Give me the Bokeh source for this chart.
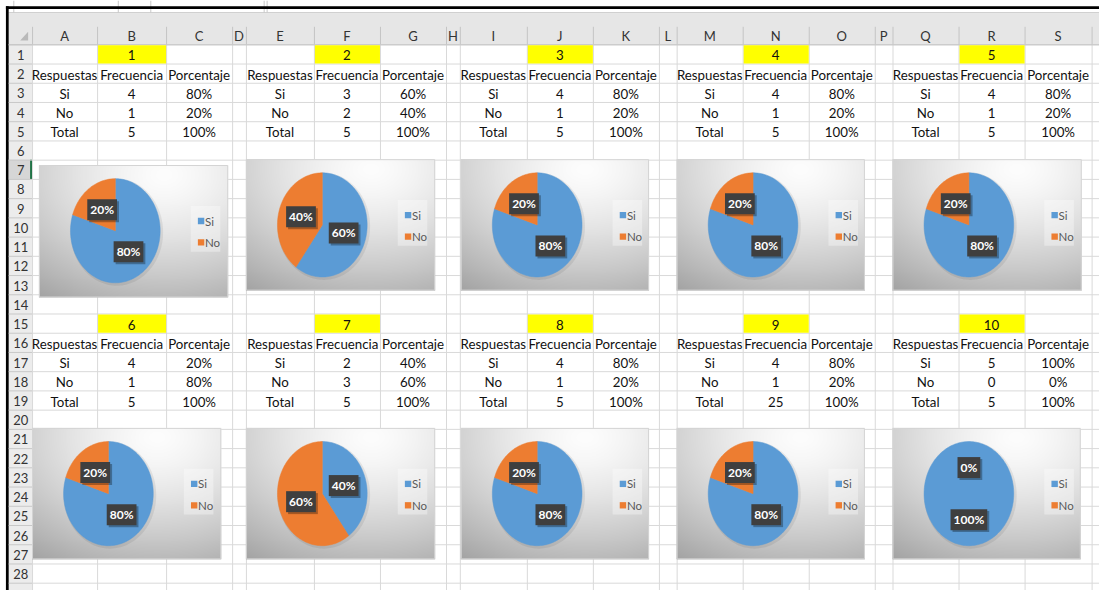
import numpy as np
from bokeh.plotting import figure
from bokeh.models import Range1d, ColumnDataSource
from bokeh.embed import file_html
from bokeh.resources import INLINE
from bokeh.core.properties import value

# ---------------- data ----------------
table_ids = ["1", "2", "3", "4", "5", "6", "7", "8", "9", "10"]
col_headers = ["Respuestas", "Frecuencia", "Porcentaje"]
answers = ["Si", "No", "Total"]
si_freq = [4, 3, 4, 4, 4, 4, 2, 4, 4, 5]
no_freq = [1, 2, 1, 1, 1, 1, 3, 1, 1, 0]
total_freq = [5, 5, 5, 5, 5, 5, 5, 5, 25, 5]
si_pct = ["80%", "60%", "80%", "80%", "80%", "20%", "40%", "80%", "80%", "100%"]
no_pct = ["20%", "40%", "20%", "20%", "20%", "80%", "60%", "20%", "20%", "0%"]
total_pct = ["100%"] * 10
pie_si = [80, 60, 80, 80, 80, 80, 40, 80, 80, 100]
pie_no = [20, 40, 20, 20, 20, 20, 60, 20, 20, 0]
legend_labels = ["Si", "No"]
column_letters = list("ABCDEFGHIJKLMNOPQRS")

# ---------------- layout / style ----------------
W_FIG, H_FIG = 1099, 590
W_PAGE, H_PAGE = 1115, 606
COL_EDGES = [32, 98, 168, 235, 249, 318, 385, 452, 466, 534, 601, 668, 686,
             753, 820, 887, 905, 972, 1039, 1107]
ROW_TOP0, ROW_H, N_ROWS = 45.0, 19.75, 28
TABLE_COL = [0, 4, 8, 12, 16]
TABLE_ROW = [1, 15]
CHART_BOXES = [(39, 169, 231, 305), (249, 163, 441, 298), (467, 163, 658, 298),
               (686, 163, 877, 298), (905, 163, 1097, 298),
               (32, 439, 224, 574), (249, 439, 441, 574), (467, 439, 658, 574),
               (686, 439, 877, 574), (905, 439, 1096, 574)]
BLUE, ORANGE = "#5B9BD5", "#ED7D31"
FONT = value("Lato")
RIGHT = W_PAGE


def Y(py):
    return H_PAGE - np.asarray(py, dtype=float)


def row_top(r):
    return ROW_TOP0 + (r - 1) * ROW_H


def col_center(c):
    return (COL_EDGES[c] + COL_EDGES[c + 1]) / 2.0


p = figure(width=W_FIG, height=H_FIG, x_range=Range1d(0, W_PAGE),
           y_range=Range1d(0, H_PAGE),
           output_backend="svg", toolbar_location=None, min_border=0,
           x_axis_type=None, y_axis_type=None)
p.grid.visible = False
p.outline_line_color = None
p.background_fill_color = "white"
p.border_fill_color = "white"

# header band and row header column
p.quad(left=[8], right=[RIGHT], top=Y([13]), bottom=Y([45]), fill_color="#e6e6e6", line_color=None)
p.quad(left=[8], right=[32], top=Y([45]), bottom=Y([H_PAGE]), fill_color="#ececec", line_color=None)
# formula bar remnants
p.segment(x0=[8], y0=Y([12.5]), x1=[RIGHT], y1=Y([12.5]), line_color="#c8c8c8", line_width=1)
sep = [13.5, 119.5, 152.5, 267.5, 270.5]
p.segment(x0=sep, y0=Y([0] * len(sep)), x1=sep, y1=Y([12.5] * len(sep)), line_color="#c8c8c8", line_width=1)
# window frame (black)
p.quad(left=[5.5], right=[RIGHT], top=Y([6]), bottom=Y([8.7]), fill_color="black", line_color=None)
p.quad(left=[5.5], right=[8.3], top=Y([6]), bottom=Y([H_PAGE]), fill_color="black", line_color=None)
# selected row 7 header
p.quad(left=[8.3], right=[32], top=Y([row_top(7)]), bottom=Y([row_top(8)]),
       fill_color="#d6d6d6", line_color=None)
p.quad(left=[30], right=[32], top=Y([row_top(7)]), bottom=Y([row_top(8)]),
       fill_color="#217346", line_color=None)
# corner triangle
p.patch(x=[28, 28, 20], y=Y([32, 41, 41]), fill_color="#b9b9b9", line_color=None)

# gridlines
gx = [e + 0.5 for e in COL_EDGES]
p.segment(x0=gx, y0=Y([45] * len(gx)), x1=gx, y1=Y([H_PAGE] * len(gx)), line_color="#d9d9d9", line_width=1)
rows_y = [row_top(r) + 0.5 for r in range(1, N_ROWS + 2)]
p.segment(x0=[32] * len(rows_y), y0=Y(rows_y), x1=[RIGHT] * len(rows_y), y1=Y(rows_y),
          line_color="#d9d9d9", line_width=1)
# header separators
p.segment(x0=gx, y0=Y([27] * len(gx)), x1=gx, y1=Y([45] * len(gx)), line_color="#c4c4c4", line_width=1)
p.segment(x0=[8.3] * len(rows_y), y0=Y(rows_y), x1=[32] * len(rows_y), y1=Y(rows_y),
          line_color="#c8c8c8", line_width=1)
p.segment(x0=[8.3], y0=Y([45.5]), x1=[RIGHT], y1=Y([45.5]), line_color="#c4c4c4", line_width=1)

# yellow title cells
yl, yr, yt, yb = [], [], [], []
for t in range(len(table_ids)):
    c0 = TABLE_COL[t % 5]
    r0 = TABLE_ROW[t // 5]
    yl.append(COL_EDGES[c0 + 1] + 1)
    yr.append(COL_EDGES[c0 + 2])
    yt.append(row_top(r0) + 1)
    yb.append(row_top(r0 + 1))
p.quad(left=yl, right=yr, top=Y(yt), bottom=Y(yb), fill_color="#FFFF00", line_color=None)

# header letters and row numbers
p.text(x=[col_center(i) for i in range(len(column_letters))], y=Y([36.5] * len(column_letters)),
       text=column_letters, text_font=FONT, text_font_size="13px", text_color="#333333",
       text_align="center", text_baseline="middle")
p.text(x=[20.5] * N_ROWS, y=Y([row_top(r) + ROW_H / 2 + 1 for r in range(1, N_ROWS + 1)]),
       text=[str(r) for r in range(1, N_ROWS + 1)], text_font=FONT, text_font_size="13px",
       text_color="#333333", text_align="center", text_baseline="middle")

# table texts
tx, ty, tt = [], [], []


def put(r, c, s):
    tx.append(col_center(c))
    ty.append(row_top(r) + ROW_H / 2 + 1.5)
    tt.append(str(s))


for t in range(len(table_ids)):
    c0 = TABLE_COL[t % 5]
    r0 = TABLE_ROW[t // 5]
    put(r0, c0 + 1, table_ids[t])
    for k, h in enumerate(col_headers):
        put(r0 + 1, c0 + k, h)
    rows = [(answers[0], si_freq[t], si_pct[t]),
            (answers[1], no_freq[t], no_pct[t]),
            (answers[2], total_freq[t], total_pct[t])]
    for i, row in enumerate(rows):
        for k, v in enumerate(row):
            put(r0 + 2 + i, c0 + k, v)
p.text(x=tx, y=Y(ty), text=tt, text_font=FONT, text_font_size="13.3px", text_color="#111111",
       text_align="center", text_baseline="middle")

# charts
lab_x, lab_y, lab_t = [], [], []
leg_rx, leg_ry, leg_c, leg_tx, leg_ty, leg_tt = [], [], [], [], [], []
for t, (L, T, R, B) in enumerate(CHART_BOXES):
    w, h = int(R - L), int(B - T)
    uu = (np.arange(w) + 0.5) / w
    vv = (np.arange(h) + 0.5) / h
    U, V = np.meshgrid(uu, vv)
    d = np.sqrt((U - 0.66) ** 2 + (V - 0.08) ** 2)
    g = np.clip(253 - 76 * d ** 1.4, 160, 255).astype(np.uint8)
    g = g[::-1, :]  # row 0 at the bottom
    img = np.empty((h, w), dtype=np.uint32)
    view = img.view(dtype=np.uint8).reshape((h, w, 4))
    view[..., 0] = g
    view[..., 1] = g
    view[..., 2] = g
    view[..., 3] = 255
    p.image_rgba(image=[img], x=[L], y=Y([B]), dw=[w], dh=[h])
    p.quad(left=[L + 0.5], right=[R - 0.5], top=Y([T + 0.5]), bottom=Y([B - 0.5]),
           fill_color=None, line_color="#d4d4d4", line_width=1)

    cx, cy = L + 77.5, T + 67.5
    rx, ry = 45.5, 53.5
    fr = [pie_si[t] / 100.0, pie_no[t] / 100.0]
    cols = [BLUE, ORANGE]
    start = 0.0
    xs, ys, fc = [], [], []
    for k in range(2):
        end = start + fr[k]
        if fr[k] > 0:
            th = np.linspace(start, end, max(int(200 * fr[k]), 4)) * 2 * np.pi
            px = cx + rx * np.sin(th)
            py = cy - ry * np.cos(th)
            if fr[k] < 1:
                px = np.concatenate([[cx], px])
                py = np.concatenate([[cy], py])
            xs.append(list(px))
            ys.append(list(Y(py)))
            fc.append(cols[k])
        m = (start + end) / 2.0 * 2 * np.pi
        lab_x.append(cx + 0.5 * rx * np.sin(m))
        lab_y.append(cy - 0.5 * ry * np.cos(m))
        lab_t.append("%d%%" % round(fr[k] * 100))
        start = end
    # soft shadow of pie
    th = np.linspace(0, 2 * np.pi, 200)
    p.patch(x=cx + 1.5 + (rx + 1.5) * np.sin(th), y=Y(cy + 1.5 - (ry + 1.5) * np.cos(th)),
            fill_color="black", fill_alpha=0.07, line_color=None)
    p.patches(xs=xs, ys=ys, fill_color=fc, line_color=fc, line_width=0.5)

    # legend
    p.quad(left=[L + 154], right=[L + 184], top=Y([T + 42]), bottom=Y([T + 89]),
           fill_color="white", fill_alpha=0.35, line_color=None)
    for k in range(2):
        leg_rx.append(L + 164.5)
        leg_ry.append(T + 57.5 + 22 * k)
        leg_c.append(cols[k])
        leg_tx.append(L + 168.5)
        leg_ty.append(T + 57.5 + 22 * k)
        leg_tt.append(legend_labels[k])

p.rect(x=leg_rx, y=Y(leg_ry), width=6.5, height=6.5, fill_color=leg_c, line_color=None)
p.text(x=leg_tx, y=Y(leg_ty), text=leg_tt, text_font=FONT, text_font_size="11.5px",
       text_color="#595959", text_align="left", text_baseline="middle")

# data labels (shadow + box)
lab_src = ColumnDataSource(dict(x=lab_x, y=list(Y(lab_y)), t=lab_t))
sh_src = ColumnDataSource(dict(x=[v + 2 for v in lab_x], y=list(Y([v + 2 for v in lab_y])), t=lab_t))
p.text(x="x", y="y", text="t", source=sh_src, text_font=FONT, text_font_size="12px",
       text_font_style="bold", text_alpha=0, text_align="center", text_baseline="middle",
       background_fill_color="black", background_fill_alpha=0.3, padding=3)
p.text(x="x", y="y", text="t", source=lab_src, text_font=FONT, text_font_size="12px",
       text_font_style="bold", text_color="white", text_align="center", text_baseline="middle",
       background_fill_color="#3f3f3f", padding=3)

open("out.html", "w").write(file_html(p, INLINE))
